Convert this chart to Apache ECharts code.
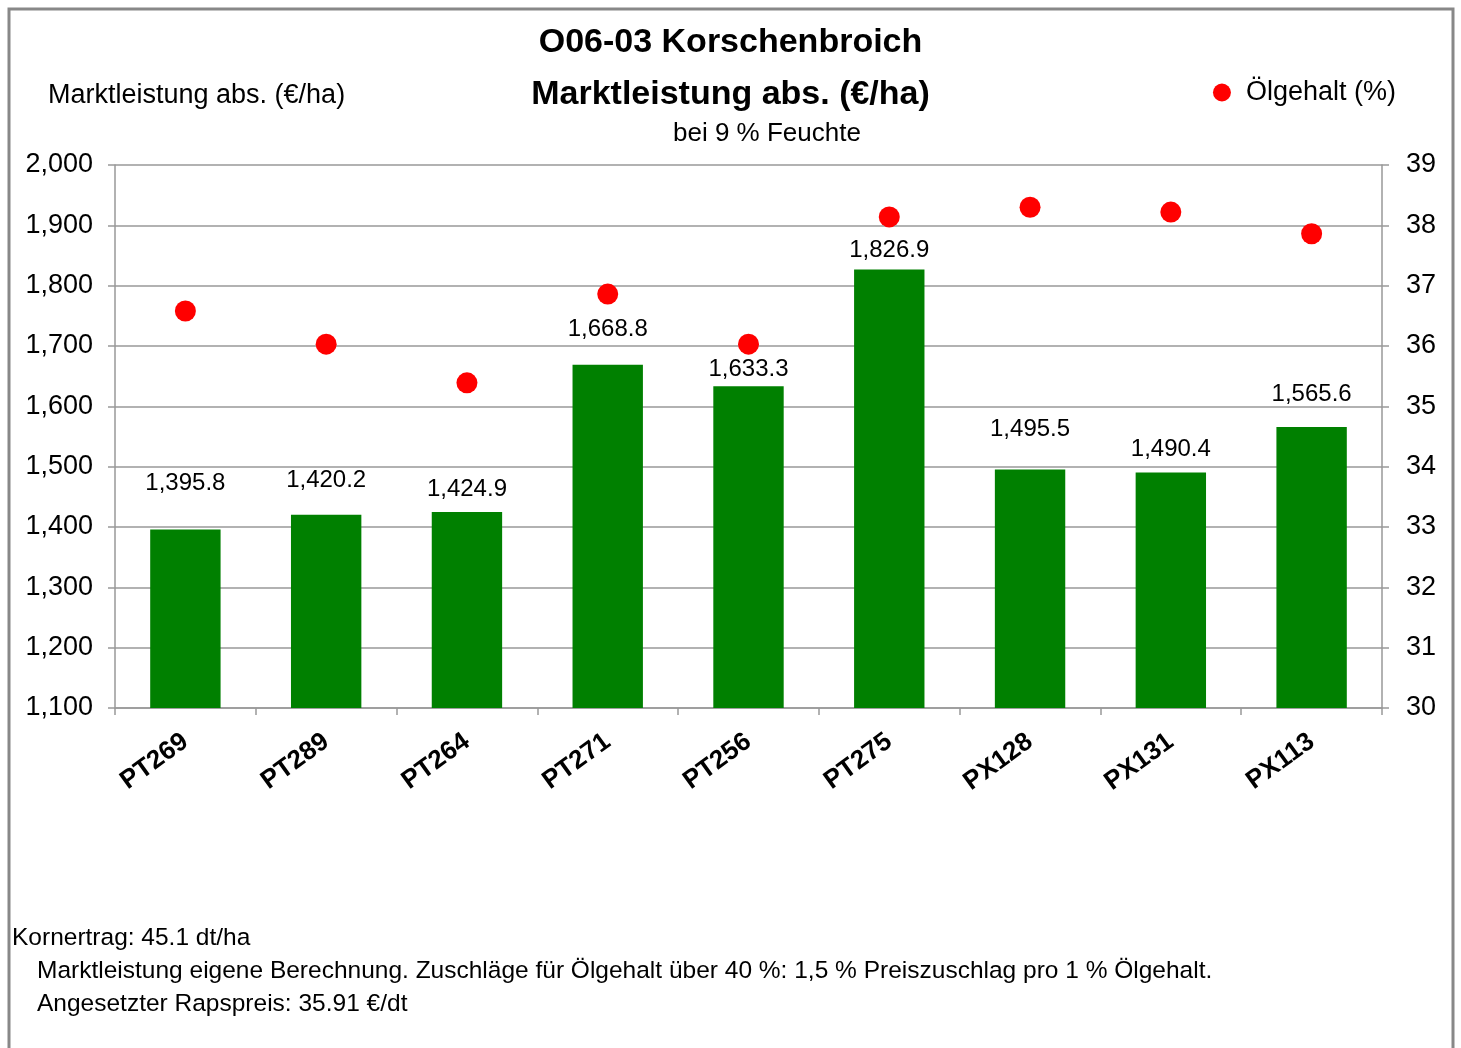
<!DOCTYPE html>
<html>
<head>
<meta charset="utf-8">
<script src="https://cdn.jsdelivr.net/npm/echarts@6/dist/echarts.min.js"></script>
<style>
  html, body { margin: 0; padding: 0; background: #fff; }
  #chart { width: 1461px; height: 1048px; }
</style>
</head>
<body>
<div id="chart"></div>
<script>
// data
var sorten = ['PT269', 'PT289', 'PT264', 'PT271', 'PT256', 'PT275', 'PX128', 'PX131', 'PX113'];
var marktleistung = [1395.8, 1420.2, 1424.9, 1668.8, 1633.3, 1826.9, 1495.5, 1490.4, 1565.6];
var oelgehalt = [36.58, 36.03, 35.39, 36.86, 36.03, 38.14, 38.3, 38.22, 37.86];
var fussnoten = [
  'Kornertrag: 45.1 dt/ha',
  'Marktleistung eigene Berechnung. Zuschläge für Ölgehalt über 40 %: 1,5 % Preiszuschlag pro 1 % Ölgehalt.',
  'Angesetzter Rapspreis: 35.91 €/dt'
];

// Abstand der Werte-Labels über den Balken (wie im Original von Hand gesetzt)
var labelGap = [34, 22, 11, 23, 5, 7, 28, 11, 21];

var font = 'Liberation Sans, Arial, sans-serif';
var chart = echarts.init(document.getElementById('chart'));

var barData = marktleistung.map(function (v, i) {
  return { value: v, label: { distance: labelGap[i] } };
});

var option = {
  animation: false,
  textStyle: { fontFamily: font },
  title: [
    {
      text: 'O06-03 Korschenbroich',
      left: 'center', top: 21,
      textStyle: { fontSize: 34, fontWeight: 'bold', color: '#000', fontFamily: font }
    },
    {
      text: 'Marktleistung abs. (€/ha)',
      left: 'center', top: 73,
      textStyle: { fontSize: 34, fontWeight: 'bold', color: '#000', fontFamily: font }
    },
    {
      text: 'bei 9 % Feuchte',
      left: 668, top: 116,
      textStyle: { fontSize: 26, fontWeight: 'normal', color: '#000', fontFamily: font }
    },
    {
      text: 'Marktleistung abs. (€/ha)',
      left: 43, top: 77,
      textStyle: { fontSize: 27, fontWeight: 'normal', color: '#000', fontFamily: font }
    }
  ],
  legend: {
    data: ['Ölgehalt (%)'],
    right: 60, top: 74,
    itemWidth: 18, itemHeight: 18, itemGap: 8,
    textStyle: { fontSize: 27, color: '#000', fontFamily: font, padding: [0, 0, 0, 10] }
  },
  grid: { left: 115, right: 79, top: 165, bottom: 340 },
  xAxis: {
    type: 'category',
    data: sorten,
    axisLine: { lineStyle: { color: '#999', width: 1.5 } },
    axisTick: { show: true, length: 7, lineStyle: { color: '#999', width: 1.5 } },
    axisLabel: {
      rotate: 36, margin: 31,
      fontSize: 26, fontWeight: 'bold', color: '#000', fontFamily: font
    }
  },
  yAxis: [
    {
      type: 'value', min: 1100, max: 2000, interval: 100,
      axisLine: { show: true, lineStyle: { color: '#999', width: 1.5 } },
      axisTick: { show: true, length: 7, lineStyle: { color: '#999', width: 1.5 } },
      splitLine: { lineStyle: { color: '#999', width: 1.5 } },
      axisLabel: {
        margin: 22, fontSize: 27, color: '#000', fontFamily: font,
        formatter: function (v) { return v.toLocaleString('en-US'); }
      }
    },
    {
      type: 'value', min: 30, max: 39, interval: 1,
      position: 'right',
      axisLine: { show: true, lineStyle: { color: '#999', width: 1.5 } },
      axisTick: { show: true, length: 7, lineStyle: { color: '#999', width: 1.5 } },
      splitLine: { show: false },
      axisLabel: { margin: 24, fontSize: 27, color: '#000', fontFamily: font }
    }
  ],
  series: [
    {
      name: 'Marktleistung',
      type: 'bar',
      barWidth: '50%',
      data: barData,
      itemStyle: { color: '#008000' },
      label: {
        show: true, position: 'top',
        fontSize: 24, color: '#000', fontFamily: font,
        formatter: function (p) {
          return p.value.toLocaleString('en-US', { minimumFractionDigits: 1, maximumFractionDigits: 1 });
        }
      }
    },
    {
      name: 'Ölgehalt (%)',
      type: 'scatter',
      yAxisIndex: 1,
      symbol: 'circle',
      symbolSize: 21,
      data: oelgehalt,
      itemStyle: { color: '#ff0000', opacity: 1 },
      z: 5
    }
  ],
  graphic: [
    {
      type: 'rect',
      shape: { x: 9, y: 9, width: 1444, height: 1060 },
      style: { fill: 'none', stroke: '#888', lineWidth: 3 },
      silent: true
    },
    {
      type: 'text', left: 12, top: 926,
      style: { text: fussnoten[0], fontSize: 24.5, fill: '#000', fontFamily: font }
    },
    {
      type: 'text', left: 37, top: 959,
      style: { text: fussnoten[1], fontSize: 24.5, fill: '#000', fontFamily: font }
    },
    {
      type: 'text', left: 37, top: 992,
      style: { text: fussnoten[2], fontSize: 24.5, fill: '#000', fontFamily: font }
    }
  ]
};

chart.setOption(option);
</script>
</body>
</html>
